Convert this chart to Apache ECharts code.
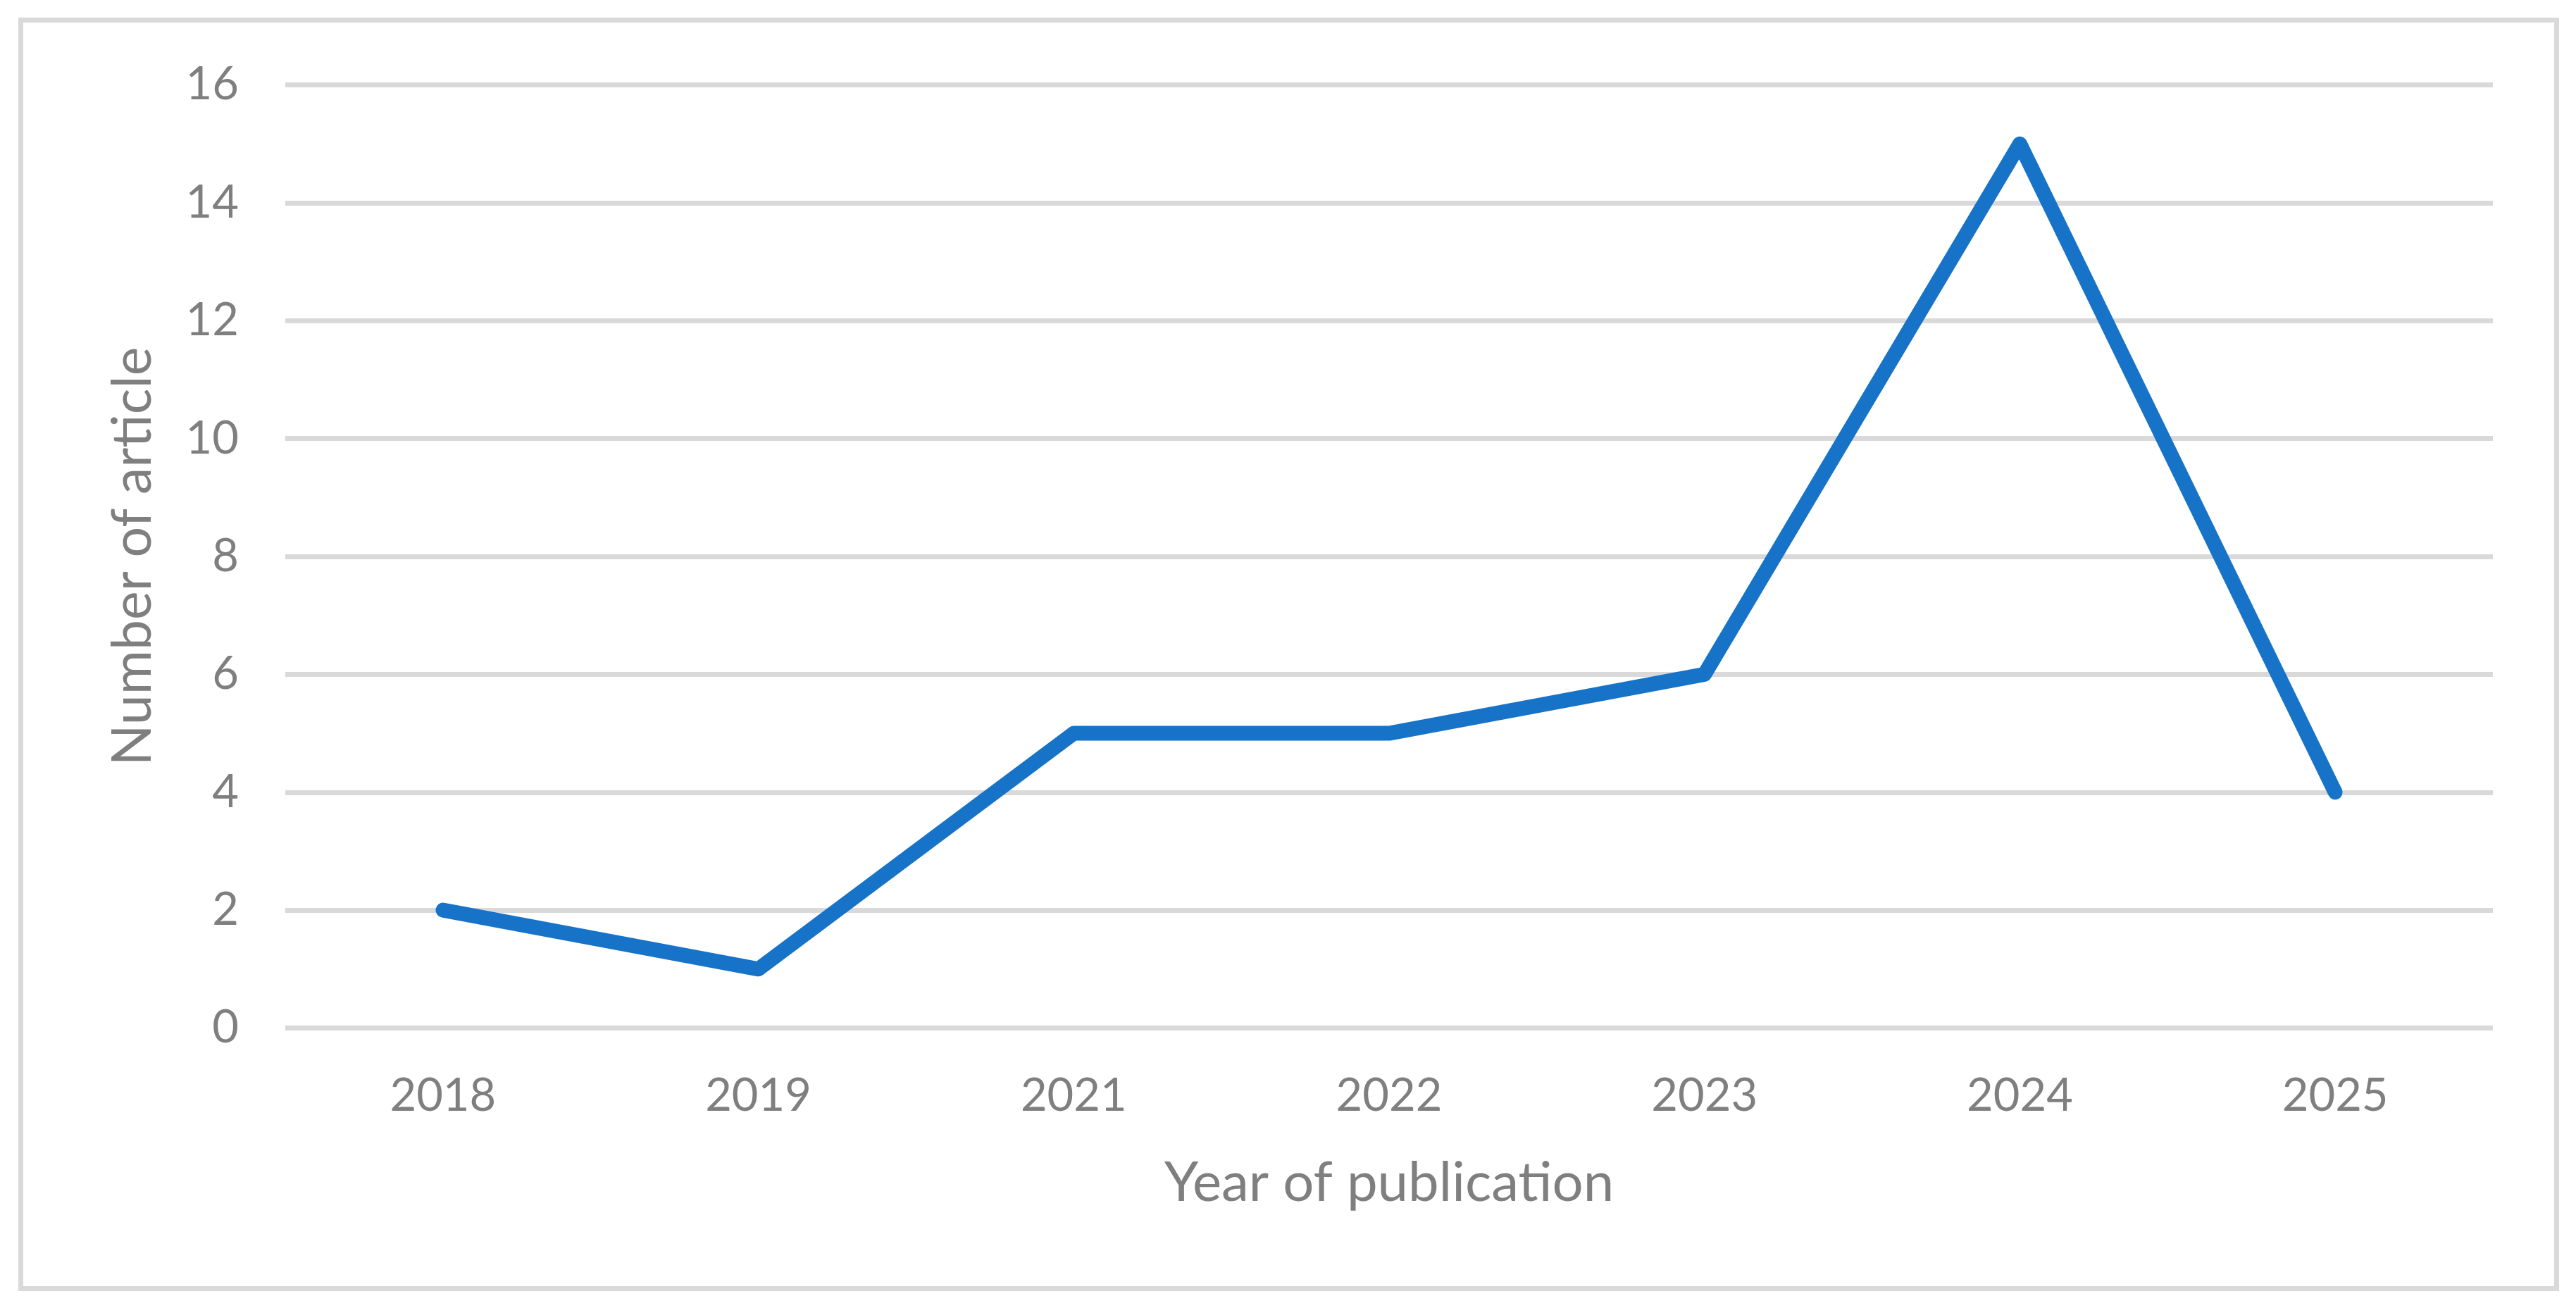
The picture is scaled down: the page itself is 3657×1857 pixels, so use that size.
<!DOCTYPE html>
<html>
<head>
<meta charset="utf-8">
<script src="https://cdn.jsdelivr.net/npm/echarts@6/dist/echarts.min.js"></script>
<style>
html,body{margin:0;padding:0;background:#fff;}
#chart{width:3657px;height:1857px;}
</style>
</head>
<body>
<div id="chart"></div>
<script>
const categories = ['2018', '2019', '2021', '2022', '2023', '2024', '2025'];
const articleCounts = [2, 1, 5, 5, 6, 15, 4];
const xAxisTitle = 'Year of publication';
const yAxisTitle = 'Number of article';

const textColor = '#7f7f7f';
const gridColor = '#d9d9d9';
const fontFamily = 'Lato, "Open Sans", sans-serif';

const chart = echarts.init(document.getElementById('chart'), null, {renderer: 'canvas'});
chart.setOption({
  animation: false,
  backgroundColor: '#ffffff',
  graphic: [{
    type: 'rect',
    shape: {x: 29.5, y: 28.5, width: 3600, height: 1801},
    style: {fill: 'none', stroke: gridColor, lineWidth: 7},
    silent: true
  }],
  grid: {left: 405, right: 118, top: 120.5, bottom: 397.5, containLabel: false},
  xAxis: {
    type: 'category',
    data: categories,
    boundaryGap: true,
    axisLine: {show: false},
    axisTick: {show: false},
    splitLine: {show: false},
    axisLabel: {color: textColor, fontSize: 65, fontFamily: fontFamily, margin: 64},
    name: xAxisTitle,
    nameLocation: 'middle',
    nameGap: 181,
    nameTextStyle: {color: textColor, fontSize: 78, fontFamily: fontFamily}
  },
  yAxis: {
    type: 'value',
    min: 0,
    max: 16,
    interval: 2,
    axisLine: {show: false},
    axisTick: {show: false},
    splitLine: {show: true, lineStyle: {color: gridColor, width: 7}},
    axisLabel: {color: textColor, fontSize: 65, fontFamily: fontFamily, margin: 66},
    name: yAxisTitle,
    nameLocation: 'middle',
    nameGap: 177,
    nameTextStyle: {color: textColor, fontSize: 77, fontFamily: fontFamily}
  },
  series: [{
    type: 'line',
    data: articleCounts,
    showSymbol: false,
    symbol: 'none',
    smooth: false,
    lineStyle: {color: '#1773C7', width: 21, cap: 'round', join: 'round'},
    itemStyle: {color: '#1773C7'}
  }]
});
</script>
</body>
</html>
